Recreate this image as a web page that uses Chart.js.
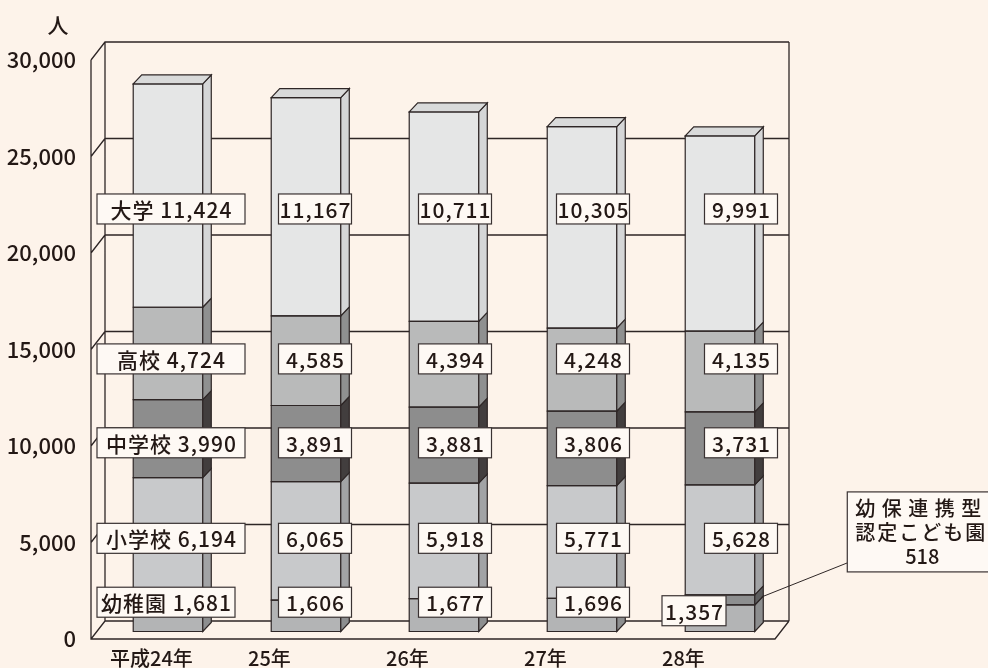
<!DOCTYPE html>
<html><head><meta charset="utf-8">
<style>html,body{margin:0;padding:0;background:#fdf3ea;}canvas{display:block}</style>
<script src="https://cdn.jsdelivr.net/npm/chart.js@4/dist/chart.umd.min.js"></script>
</head><body>
<canvas id="c" width="988" height="668"></canvas>
<script>
// ---- data ----
const categories = ['平成24年', '25年', '26年', '27年', '28年'];
const seriesNames = ['幼稚園', '幼保連携型\n認定こども園', '小学校', '中学校', '高校', '大学'];
const kindergarten = [1681, 1606, 1677, 1696, 1357];
const certifiedKodomoen = [null, null, null, null, 518];
const elementary = [6194, 6065, 5918, 5771, 5628];
const juniorHigh = [3990, 3891, 3881, 3806, 3731];
const highSchool = [4724, 4585, 4394, 4248, 4135];
const university = [11424, 11167, 10711, 10305, 9991];
const yTickMin = 0, yTickMax = 30000, yTickStep = 5000;
const unitLabel = '人';

// ---- style ----
const LINE = '#2e2626', TEXT = '#231815';
const BOX_FILL = '#fef9f4', BOX_LINE = '#3a3232';
const FONT = '"Noto Sans CJK JP", "Noto Sans", sans-serif';
const fronts = ['#b3b4b5', '#8e8f90', '#c8c9cb', '#8d8d8d', '#b9baba', '#e5e6e6'];
const sides  = ['#8d8e8f', '#5d5d5e', '#a2a3a5', '#423e3e', '#8f9090', '#d5d6d7'];
const TOP_FACE = '#d9dada';
const BAR_DX = 8.5, BAR_DY = 9;      // bar depth
const WALL_DX = 14, WALL_DY = 18;    // wall depth
const lbl = { h: 30, numW: 73, firstW: [138, 0, 148, 148, 148, 148], firstLeft: -71,
              colDX: [3, 9, 11, 11, 21], rowNudge: [-13, 0, -2, -2, -5, -7] };

const seriesValues = [kindergarten, certifiedKodomoen, elementary, juniorHigh, highSchool, university];
const fmt = v => v.toLocaleString('en-US');

const datasets = seriesValues.map((vals, d) => ({
  label: seriesNames[d].replace('\n', ''),
  data: vals,
  yAxisID: 'yb',
  backgroundColor: fronts[d],
  borderWidth: 0,
  barPercentage: 0.504,
  categoryPercentage: 1
}));

function polygon(ctx, pts, fill) {
  ctx.beginPath();
  ctx.moveTo(pts[0][0], pts[0][1]);
  for (let k = 1; k < pts.length; k++) ctx.lineTo(pts[k][0], pts[k][1]);
  ctx.closePath();
  if (fill) { ctx.fillStyle = fill; ctx.fill(); }
  ctx.strokeStyle = LINE; ctx.lineWidth = 1.2; ctx.stroke();
}

const wallPlugin = {
  id: 'wall',
  beforeDatasetsDraw(chart) {
    const ctx = chart.ctx, a = chart.chartArea, ys = chart.scales.y;
    const fL = a.left - 8, fR = a.right - WALL_DX, bL = fL + WALL_DX, bR = fR + WALL_DX;
    ctx.save();
    ctx.strokeStyle = LINE; ctx.lineWidth = 1.3;
    ctx.beginPath();
    for (let v = yTickMin; v <= yTickMax; v += yTickStep) {
      const yf = ys.getPixelForValue(v), yb = yf - WALL_DY;
      ctx.moveTo(fL, yf); ctx.lineTo(bL, yb); ctx.lineTo(bR, yb);
    }
    const yTopF = ys.getPixelForValue(yTickMax), yZeroF = ys.getPixelForValue(yTickMin);
    ctx.moveTo(fL, yTopF); ctx.lineTo(fL, yZeroF); ctx.lineTo(fR, yZeroF); ctx.lineTo(bR, yZeroF - WALL_DY);
    ctx.moveTo(bL, yTopF - WALL_DY); ctx.lineTo(bL, yZeroF - WALL_DY);
    ctx.moveTo(bR, yTopF - WALL_DY); ctx.lineTo(bR, yZeroF - WALL_DY);
    ctx.stroke();
    ctx.restore();
  }
};

const bar3dPlugin = {
  id: 'bar3d',
  afterDatasetsDraw(chart) {
    const ctx = chart.ctx;
    ctx.save();
    const n = categories.length;
    for (let i = 0; i < n; i++) {
      let topD = -1;
      seriesValues.forEach((vals, d) => {
        if (vals[i] == null) return;
        topD = d;
        const el = chart.getDatasetMeta(d).data[i];
        const l = el.x - el.width / 2, r = el.x + el.width / 2;
        const t = Math.min(el.y, el.base), b = Math.max(el.y, el.base);
        polygon(ctx, [[l, b], [l, t], [r, t], [r, b]], null);
        polygon(ctx, [[r, b], [r, t], [r + BAR_DX, t - BAR_DY], [r + BAR_DX, b - BAR_DY]], sides[d]);
      });
      const el = chart.getDatasetMeta(topD).data[i];
      const l = el.x - el.width / 2, r = el.x + el.width / 2, t = Math.min(el.y, el.base);
      polygon(ctx, [[l, t], [l + BAR_DX, t - BAR_DY], [r + BAR_DX, t - BAR_DY], [r, t]], TOP_FACE);
    }
    ctx.restore();
  }
};

function drawBox(ctx, x, y, w, h) {
  ctx.fillStyle = BOX_FILL; ctx.fillRect(x, y, w, h);
  ctx.strokeStyle = BOX_LINE; ctx.lineWidth = 1.2; ctx.strokeRect(x, y, w, h);
}

const labelPlugin = {
  id: 'labels',
  afterDraw(chart) {
    const ctx = chart.ctx, a = chart.chartArea;
    ctx.save();
    ctx.font = '500 21px ' + FONT;
    ctx.textBaseline = 'middle';
    ctx.fillStyle = TEXT;
    ctx.textAlign = 'center';
    ctx.fillText(unitLabel, a.left - 41, 25);
    const n = categories.length;
    ctx.letterSpacing = '1px';
    seriesValues.forEach((vals, d) => {
      const meta = chart.getDatasetMeta(d);
      if (d === 1) return; // callout drawn separately
      let sum = 0, cnt = 0;
      for (let i = 0; i < n; i++) {
        if (vals[i] == null) continue;
        if (d === 0 && certifiedKodomoen[i] != null) continue;
        const el = meta.data[i]; sum += (el.y + el.base) / 2; cnt++;
      }
      const rowY = sum / cnt + lbl.rowNudge[d];
      for (let i = 0; i < n; i++) {
        if (vals[i] == null) continue;
        const el = meta.data[i];
        let cy = rowY, w, x, text;
        if (i === 0) {
          w = lbl.firstW[d]; x = el.x + lbl.firstLeft;
          text = seriesNames[d] + ' ' + fmt(vals[i]);
        } else {
          w = lbl.numW; x = el.x + lbl.colDX[i] - w / 2; text = fmt(vals[i]);
        }
        if (d === 0 && certifiedKodomoen[i] != null) {
          w = 64; x = el.x - 26 - w / 2; cy = (el.y + el.base) / 2 - 7.5;
        }
        const y = cy - lbl.h / 2;
        drawBox(ctx, x, y, w, lbl.h);
        ctx.fillStyle = TEXT; ctx.textAlign = 'center';
        ctx.fillText(text, x + w / 2 + 0.5, cy + 1);
      }
    });
    // callout for 幼保連携型認定こども園
    const cm = chart.getDatasetMeta(1);
    ctx.font = '500 20px ' + FONT;
    for (let i = 0; i < n; i++) {
      const v = certifiedKodomoen[i];
      if (v == null) continue;
      const el = cm.data[i];
      const r = el.x + el.width / 2, cy = (el.y + el.base) / 2;
      const bx = r + 92.5, by = cy - 108, bw = 150, bh = 80;
      ctx.strokeStyle = LINE; ctx.lineWidth = 1;
      ctx.beginPath(); ctx.moveTo(bx, by + 71); ctx.lineTo(r + 7, cy - 3); ctx.stroke();
      drawBox(ctx, bx, by, bw, bh);
      ctx.fillStyle = TEXT; ctx.textAlign = 'left';
      const lines = seriesNames[1].split('\n');
      ctx.letterSpacing = '6.5px';
      ctx.fillText(lines[0], bx + 8, by + 16);
      ctx.letterSpacing = '2px';
      ctx.fillText(lines[1], bx + 8, by + 40);
      ctx.letterSpacing = '0px';
      ctx.textAlign = 'center';
      ctx.fillText(fmt(v), bx + 75, by + 64);
    }
    ctx.restore();
  }
};

new Chart(document.getElementById('c'), {
  type: 'bar',
  data: { labels: categories, datasets },
  options: {
    responsive: false,
    devicePixelRatio: 1,
    animation: false,
    layout: { padding: { top: 60, left: 0, right: 199, bottom: 0 } },
    plugins: { legend: { display: false }, tooltip: { enabled: false } },
    scales: {
      x: {
        type: 'category', stacked: true, offset: true,
        grid: { display: false, drawTicks: false }, border: { display: false },
        ticks: { align: 'start', labelOffset: -58, padding: 9, maxRotation: 0, autoSkip: false,
                 color: TEXT, font: { family: FONT, size: 20, weight: '500', lineHeight: 1 } },
        afterFit(s) { s.height = 29; }
      },
      y: {
        type: 'linear', position: 'left', min: yTickMin, max: yTickMax,
        grid: { display: false, drawTicks: false }, border: { display: false },
        ticks: { stepSize: yTickStep, padding: 23, color: TEXT,
                 font: { family: FONT, size: 22, weight: '500', lineHeight: 0.25 }, callback: v => fmt(v) },
        afterFit(s) { s.width = 99; }
      },
      yb: { type: 'linear', display: false, stacked: true, min: -384, max: 29239 }
    }
  },
  plugins: [wallPlugin, bar3dPlugin, labelPlugin]
});
</script>
</body></html>
